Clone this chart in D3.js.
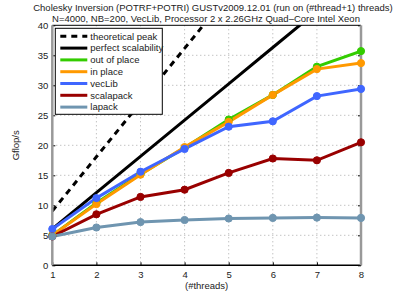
<!DOCTYPE html>
<html>
<head>
<meta charset="utf-8">
<script src="https://cdn.jsdelivr.net/npm/d3@7"></script>
<style>
  body { margin: 0; background: #fff; }
  text { font-family: "Liberation Sans", Arial, sans-serif; fill: #222; }
</style>
</head>
<body>
<div id="chart"></div>
<script>
// data
let arrThreads = [1, 2, 3, 4, 5, 6, 7, 8];
let arrPeak = [9.04, 18.08, 27.12, 36.16, 45.2, 54.24, 63.28, 72.32];
let arrPerfect = [6.05, 12.1, 18.15, 24.2, 30.25, 36.3, 42.35, 48.4];
let arrOutOfPlace = [5.0, 10.4, 15.2, 19.6, 24.3, 28.4, 33.1, 35.7];
let arrInPlace = [5.0, 10.2, 15.1, 19.7, 23.9, 28.4, 32.7, 33.7];
let arrVecLib = [6.05, 11.2, 15.6, 19.4, 23.1, 24.0, 28.2, 29.4];
let arrScalapack = [4.8, 8.5, 11.4, 12.6, 15.4, 17.8, 17.5, 20.5];
let arrLapack = [4.8, 6.3, 7.2, 7.55, 7.8, 7.9, 7.95, 7.9];
let arrYTicks = [0, 5, 10, 15, 20, 25, 30, 35, 40];

let arrSeries = [
  {name: "theoretical peak", vals: arrPeak, color: "#000", dash: "6,5", marker: false, width: 3},
  {name: "perfect scalability", vals: arrPerfect, color: "#000", dash: null, marker: false, width: 3},
  {name: "out of place", vals: arrOutOfPlace, color: "#33cc00", dash: null, marker: true, width: 3},
  {name: "in place", vals: arrInPlace, color: "#ff9900", dash: null, marker: true, width: 3},
  {name: "vecLib", vals: arrVecLib, color: "#3f66ff", dash: null, marker: true, width: 3},
  {name: "scalapack", vals: arrScalapack, color: "#990000", dash: null, marker: true, width: 3},
  {name: "lapack", vals: arrLapack, color: "#6f95b0", dash: null, marker: true, width: 3}
];

let intTotalWid = 399;
let intTotalHgt = 299;
let objMargin = {top: 25.3, right: 38, bottom: 33.7, left: 52.3};
let intActiveWid = intTotalWid - objMargin.left - objMargin.right;
let intActiveHgt = intTotalHgt - objMargin.top - objMargin.bottom;

let svg = d3.select("#chart").append("svg")
  .attr("width", intTotalWid)
  .attr("height", intTotalHgt);

let g = svg.append("g")
  .attr("transform", `translate(${objMargin.left}, ${objMargin.top})`);

let fnX = d3.scaleLinear().domain([1, 8]).range([0, intActiveWid]);
let fnY = d3.scaleLinear().domain([0, 40]).range([intActiveHgt, 0]);

// grid
g.append("g").selectAll("line").data(arrThreads.slice(1, -1)).enter().append("line")
  .attr("x1", d => fnX(d)).attr("x2", d => fnX(d))
  .attr("y1", 0).attr("y2", intActiveHgt)
  .attr("stroke", "#aaa").attr("stroke-width", 1).attr("stroke-dasharray", "1,3");
g.append("g").selectAll("line").data(arrYTicks.slice(1, -1)).enter().append("line")
  .attr("x1", 0).attr("x2", intActiveWid)
  .attr("y1", d => fnY(d)).attr("y2", d => fnY(d))
  .attr("stroke", "#aaa").attr("stroke-width", 1).attr("stroke-dasharray", "1,3");

// axes
let gX = g.append("g")
  .attr("transform", `translate(0, ${intActiveHgt})`)
  .call(d3.axisBottom(fnX).tickValues(arrThreads).tickFormat(d3.format("d")).tickSize(-3).tickPadding(6));
let gY = g.append("g")
  .call(d3.axisLeft(fnY).tickValues(arrYTicks).tickSize(-3).tickPadding(4));
let gYR = g.append("g")
  .attr("transform", `translate(${intActiveWid}, 0)`)
  .call(d3.axisRight(fnY).tickValues(arrYTicks).tickSize(-3).tickFormat(""));
[gX, gY, gYR].forEach(a => {
  a.selectAll("text").attr("font-size", 9.5).style("fill", "#222");
  a.select(".domain").remove();
});
g.append("line").attr("x1", 0).attr("x2", intActiveWid).attr("y1", 0).attr("y2", 0)
  .attr("stroke", "#000").attr("stroke-width", 1);
g.append("line").attr("x1", 0).attr("x2", intActiveWid).attr("y1", intActiveHgt).attr("y2", intActiveHgt)
  .attr("stroke", "#000").attr("stroke-width", 1.5);

// clip
svg.append("defs").append("clipPath").attr("id", "clip")
  .append("rect").attr("width", intActiveWid).attr("height", intActiveHgt);

let gData = g.append("g").attr("clip-path", "url(#clip)");
let fnLine = d3.line().x((d, i) => fnX(arrThreads[i])).y(d => fnY(d));

arrSeries.forEach(s => {
  gData.append("path")
    .attr("d", fnLine(s.vals))
    .attr("fill", "none")
    .attr("stroke", s.color)
    .attr("stroke-width", s.width)
    .attr("stroke-dasharray", s.dash);
});

// side axis lines (grey)
g.append("line").attr("x1", 0).attr("x2", 0).attr("y1", 0).attr("y2", intActiveHgt)
  .attr("stroke", "#999").attr("stroke-width", 2.5);
g.append("line").attr("x1", intActiveWid).attr("x2", intActiveWid).attr("y1", 0).attr("y2", intActiveHgt)
  .attr("stroke", "#999").attr("stroke-width", 2.5);

// markers
arrSeries.filter(s => s.marker).forEach(s => {
  g.append("g").selectAll("circle").data(s.vals).enter().append("circle")
    .attr("cx", (d, i) => fnX(arrThreads[i]))
    .attr("cy", d => fnY(d))
    .attr("r", 3.6)
    .attr("fill", s.color)
    .attr("stroke", s.color)
    .attr("stroke-width", 1);
});

// legend
let gLeg = g.append("g").attr("transform", "translate(3, 3)");
gLeg.append("rect").attr("width", 107).attr("height", 86)
  .attr("fill", "#fff").attr("stroke", "#000").attr("stroke-width", 1);
arrSeries.forEach((s, i) => {
  let y = 8 + i * 11.8;
  gLeg.append("line").attr("x1", 5).attr("x2", 32).attr("y1", y).attr("y2", y)
    .attr("stroke", s.color).attr("stroke-width", s.width).attr("stroke-dasharray", s.dash);
  gLeg.append("text").attr("x", 35).attr("y", y + 3.3)
    .attr("font-size", 9.5).text(s.name);
});

// titles
svg.append("text").attr("x", 213).attr("y", 11).attr("text-anchor", "middle")
  .attr("font-size", 9.5).text("Cholesky Inversion (POTRF+POTRI) GUSTv2009.12.01 (run on (#thread+1) threads)");
svg.append("text").attr("x", 206).attr("y", 22).attr("text-anchor", "middle")
  .attr("font-size", 9.5).text("N=4000, NB=200, VecLib, Processor 2 x 2.26GHz Quad\u2013Core Intel Xeon");

// axis labels
g.append("text").attr("transform", "rotate(-90)")
  .attr("x", -intActiveHgt / 2).attr("y", -33)
  .attr("text-anchor", "middle").attr("font-size", 9.5).text("Gflop/s");
g.append("text").attr("x", intActiveWid / 2).attr("y", intActiveHgt + 24)
  .attr("text-anchor", "middle").attr("font-size", 9.5).text("(#threads)");
</script>
</body>
</html>
